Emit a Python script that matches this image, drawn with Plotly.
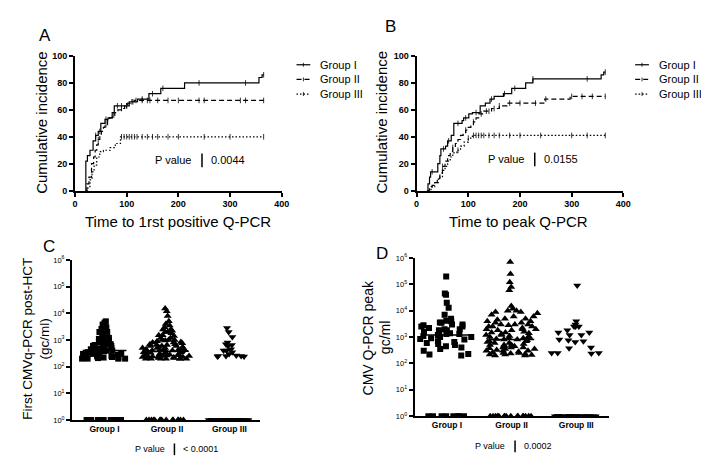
import numpy as np
import plotly.graph_objects as go

W, H = 709, 459

# ---------------- data: cumulative incidence panels ----------------
groups = ["Group I", "Group II", "Group III"]

A_t_I = [20, 21, 24, 29, 35, 40, 45, 50, 58, 64, 72, 76, 105, 121, 143, 166, 212, 356, 362, 365]
A_y_I = [0, 22, 26, 30, 37, 41, 44, 50, 53, 54, 58, 63, 66, 68, 72, 76, 80, 84, 86, 86]
A_t_II = [20, 23, 27, 32, 36, 39, 42, 45, 48, 51, 55, 58, 63, 67, 72, 77, 83, 90, 96, 102, 108, 115, 365]
A_y_II = [0, 5, 10, 20, 25, 30, 34, 38, 41, 44, 47, 49, 52, 54, 56, 58, 60, 61, 63, 65, 66, 67, 67]
A_t_III = [22, 25, 29, 33, 37, 42, 48, 55, 68, 78, 88, 365]
A_y_III = [0, 3, 8, 14, 19, 25, 29, 30, 32, 35, 40, 40]
A_cens_I = [40, 48, 60, 82, 90, 100, 110, 130, 150, 170, 240, 330, 365]
A_cens_II = [45, 60, 75, 90, 100, 112, 118, 130, 140, 145, 160, 180, 200, 240, 250, 320, 330, 365]
A_cens_III = [90, 95, 100, 105, 110, 115, 120, 130, 140, 150, 160, 180, 200, 250, 300, 365]

B_t_I = [20, 22, 25, 27, 41, 45, 47, 56, 60, 67, 72, 88, 91, 101, 108, 123, 133, 142, 150, 168, 184, 211, 225, 357, 362, 365]
B_y_I = [0, 5, 10, 14, 20, 26, 31, 33, 37, 41, 50, 52, 54, 57, 58, 63, 65, 68, 70, 72, 76, 80, 83, 86, 88, 88]
B_t_II = [20, 25, 30, 35, 40, 45, 50, 55, 60, 65, 70, 75, 80, 85, 90, 95, 100, 105, 110, 115, 120, 130, 145, 160, 175, 248, 297, 365]
B_y_II = [0, 2, 4, 6, 9, 13, 18, 22, 26, 29, 32, 35, 38, 41, 43, 45, 47, 49, 51, 54, 57, 59, 61, 63, 65, 68, 70, 70]
B_t_III = [22, 28, 35, 42, 50, 55, 60, 65, 70, 78, 85, 92, 100, 108, 365]
B_y_III = [0, 3, 6, 10, 15, 18, 22, 25, 28, 30, 33, 36, 39, 41, 41]
B_cens_I = [30, 52, 62, 80, 95, 115, 145, 170, 190, 225, 330, 365]
B_cens_II = [50, 70, 95, 110, 125, 135, 140, 150, 160, 180, 200, 230, 250, 300, 320, 340, 365]
B_cens_III = [80, 100, 110, 115, 120, 125, 130, 140, 150, 160, 180, 200, 240, 300, 330, 365]

p_A, p_B, p_C, p_D = "0.0044", "0.0155", "< 0.0001", "0.0002"

# ---------------- data: column scatter panels (gc/ml; 1 = undetectable) ----------------
C_I = [5000, 4500, 3800, 3000, 2600, 2200, 2000, 2000, 2000, 1800, 1500, 1200, 1100, 1000, 1000, 900, 850,
       800, 700, 700, 650, 600, 600, 550, 500, 500, 480, 450, 450, 420, 400, 400, 380, 350, 350, 330, 300,
       300, 300, 280, 260, 250, 250, 240, 230, 220, 220, 210, 200, 200, 200, 200] + [1] * 10
C_II = [15000, 12000, 8000, 5000, 4000, 3500, 3000, 2500, 2500, 2200, 2000, 2000, 1800, 1500, 1500, 1400,
        1200, 1200, 1000, 1000, 1000, 950, 900, 850, 800, 800, 750, 700, 700, 650, 650, 600, 600, 600, 550,
        550, 500, 500, 500, 480, 450, 450, 450, 420, 400, 400, 400, 380, 350, 350, 350, 330, 320, 300, 300,
        300, 300, 290, 280, 270, 260, 250, 250, 250, 250, 240, 230, 230, 220, 220, 220, 210, 210, 200, 200,
        200, 200, 200, 200, 200] + [1] * 15
C_III = [2800, 2000, 1300, 800, 700, 650, 600, 450, 400, 400, 350, 300, 260, 250, 250, 250, 240, 240] + [1] * 22

D_I = [200000, 45000, 40000, 20000, 13000, 7000, 5000, 4200, 4000, 3600, 3500, 3000, 3000, 2800, 2500, 2500,
       2200, 2000, 2000, 1800, 1800, 1600, 1500, 1400, 1300, 1300, 1200, 1100, 1000, 1000, 900, 850, 800, 700,
       650, 600, 550, 500, 450, 400, 350, 300, 230, 220, 200] + [1] * 8
D_II = [700000, 250000, 120000, 80000, 60000, 15000, 12000, 10000, 10000, 9000, 9000, 8000, 7000, 6000, 6000,
        5000, 5000, 4500, 4000, 4000, 3500, 3500, 3000, 3000, 3000, 2800, 2500, 2500, 2500, 2200, 2000, 2000,
        2000, 1800, 1800, 1600, 1500, 1500, 1400, 1300, 1200, 1200, 1100, 1000, 1000, 1000, 900, 900, 850, 800,
        800, 750, 700, 700, 650, 600, 600, 550, 500, 500, 500, 450, 450, 400, 400, 400, 380, 350, 350, 320, 300,
        300, 300, 280, 260, 250, 250, 240, 230, 220, 220, 210, 200, 200] + [1] * 16
D_III = [90000, 4000, 3000, 2500, 2500, 2500, 1800, 1500, 1500, 1200, 1200, 800, 750, 700, 650, 400, 380, 250,
         250, 250, 240] + [1] * 25

log_ticks = [1, 10, 100, 1000, 10000, 100000, 1000000]
log_ticktext = ["10<sup>%d</sup>" % i for i in range(7)]


def px(x):
    return x / W


def py(y):
    return 1 - y / H


FONT = "Arial, Liberation Sans, sans-serif"
fig = go.Figure()

dashes = ["solid", "5px,3px", "1.5px,2px"]


def step_at(times, vals, t):
    i = np.searchsorted(np.array(times), t, side="right") - 1
    return vals[max(i, 0)]


def km(times_list, vals_list, cens_list, xa, ya):
    for g, t, v, c, d in zip(groups, times_list, vals_list, cens_list, dashes):
        fig.add_trace(go.Scatter(x=t, y=v, mode="lines", line=dict(color="black", width=1.2, dash=d, shape="hv"),
                                 name=g, xaxis=xa, yaxis=ya, showlegend=False))
        fig.add_trace(go.Scatter(x=c, y=[step_at(t, v, ci) for ci in c], mode="markers",
                                 marker=dict(symbol="line-ns", size=4, line=dict(color="black", width=0.8)),
                                 showlegend=False, xaxis=xa, yaxis=ya, hoverinfo="skip"))


km([A_t_I, A_t_II, A_t_III], [A_y_I, A_y_II, A_y_III], [A_cens_I, A_cens_II, A_cens_III], "x", "y")
km([B_t_I, B_t_II, B_t_III], [B_y_I, B_y_II, B_y_III], [B_cens_I, B_cens_II, B_cens_III], "x2", "y2")

symbols = ["square", "triangle-up", "triangle-down"]
msize = [6, 7, 7]
pos_width = [0.85, 0.8, 0.9]


def colscatter(data_list, xa, ya):
    for i, (vals, s, ms, wd) in enumerate(zip(data_list, symbols, msize, pos_width)):
        pos = [v for v in vals if v > 1]
        und = [v for v in vals if v <= 1]
        for part, w in ((pos, wd), (und, 0.68)):
            fig.add_trace(go.Box(y=part, x0=i, boxpoints="all", jitter=1, pointpos=0, width=w,
                                 fillcolor="rgba(0,0,0,0)", line=dict(width=0, color="rgba(0,0,0,0)"),
                                 marker=dict(symbol=s, size=ms, color="black"), showlegend=False,
                                 xaxis=xa, yaxis=ya, hoverinfo="y"))
        med = float(np.median(vals))
        fig.add_trace(go.Scatter(x=[i - 0.35, i + 0.35], y=[med, med], mode="lines",
                                 line=dict(color="black", width=1.5), showlegend=False,
                                 xaxis=xa, yaxis=ya, hoverinfo="skip"))


colscatter([C_I, C_II, C_III], "x3", "y3")
colscatter([D_I, D_II, D_III], "x4", "y4")

axis_common = dict(showline=True, linecolor="black", linewidth=2, ticks="outside", ticklen=4, tickwidth=1.5,
                   tickcolor="black", showgrid=False, zeroline=False, tickfont=dict(family=FONT, size=9, color="black"))

km_x = dict(range=[0, 400], tickvals=[0, 100, 200, 300, 400], ticktext=["<b>%d</b>" % v for v in [0, 100, 200, 300, 400]])
km_y = dict(range=[0, 100], tickvals=[0, 20, 40, 60, 80, 100], ticktext=["<b>%d</b>" % v for v in [0, 20, 40, 60, 80, 100]])
cat_x = dict(tickvals=[0, 1, 2], ticktext=["<b>%s</b>" % g for g in groups], ticks="",
             tickfont=dict(family=FONT, size=8.5, color="black"))
log_y = dict(type="log", range=[0, 6], tickvals=log_ticks, ticktext=log_ticktext,
             tickfont=dict(family=FONT, size=7.5, color="black"))

fig.update_layout(
    width=W, height=H, margin=dict(l=0, r=0, t=0, b=0), plot_bgcolor="white", paper_bgcolor="white",
    font=dict(family=FONT, color="black"), showlegend=False,
    xaxis=dict(**axis_common, **km_x, domain=[px(65), px(275)], anchor="y"),
    yaxis=dict(**axis_common, **km_y, domain=[py(181), py(43)], anchor="x"),
    xaxis2=dict(**axis_common, **km_x, domain=[px(412), px(622)], anchor="y2"),
    yaxis2=dict(**axis_common, **km_y, domain=[py(181), py(43)], anchor="x2"),
    xaxis3=dict(**{**axis_common, **cat_x}, range=[-0.52, 2.49], domain=[px(62), px(253)], anchor="y3"),
    yaxis3=dict(**{**axis_common, **log_y}, domain=[py(416), py(252)], anchor="x3"),
    xaxis4=dict(**{**axis_common, **cat_x}, range=[-0.5, 2.5], domain=[px(410), px(607)], anchor="y4"),
    yaxis4=dict(**{**axis_common, **log_y}, domain=[py(412), py(250)], anchor="x4"),
)


def ann(text, x, y, size, angle=0, xanchor="center"):
    fig.add_annotation(text=text, x=px(x), y=py(y), xref="paper", yref="paper", showarrow=False,
                       font=dict(family=FONT, size=size, color="black"), textangle=angle,
                       xanchor=xanchor, yanchor="middle")


def hline(x0, x1, y, dash="solid", width=1.2):
    fig.add_shape(type="line", xref="paper", yref="paper", x0=px(x0), x1=px(x1), y0=py(y), y1=py(y),
                  line=dict(color="black", width=width, dash=dash))


def vline(x, y0, y1, width=1.5):
    fig.add_shape(type="line", xref="paper", yref="paper", x0=px(x), x1=px(x), y0=py(y0), y1=py(y1),
                  line=dict(color="black", width=width))


# legends for A and B (line sample with a censor tick, then label)
for lx in (290, 634):
    for k, (g, d) in enumerate(zip(groups, dashes)):
        yy = 52 + 15 * k
        hline(lx, lx + 14, yy, d)
        vline(lx + 7, yy - 2, yy + 2, 0.8)
        ann(g, lx + 22, yy, 11, xanchor="left")

# panel letters
ann("A", 35, 22, 17)
ann("B", 385, 13, 17)
ann("C", 39, 238, 17)
ann("D", 377, 245, 17)

# axis titles
ann("Cumulative incidence", 31, 111, 15, -90)
ann("Cumulative incidence", 376, 111, 15, -90)
ann("Time to 1rst positive Q-PCR", 170, 213, 15)
ann("Time to peak Q-PCR", 515, 213, 15)
ann("First CMVq-PCR post-HCT", 16, 333, 13.5, -90)
ann("(gc/ml)", 34, 333, 13.5, -90)
ann("CMV Q-PCR peak", 363, 332, 14, -90)
ann("gc/ml", 380, 332, 14, -90)


# p values
def pval(xbar, y, half, value, size):
    ann("P value", xbar - 8, y, size, xanchor="right")
    ann(value, xbar + 7, y, size, xanchor="left")
    vline(xbar, y - half, y + half)


pval(194, 150, 7, p_A, 11)
pval(532, 149, 7, p_B, 11)
pval(166, 446, 6, p_C, 9)
pval(512, 443, 6, p_D, 9)

fig.write_html("out.html")
